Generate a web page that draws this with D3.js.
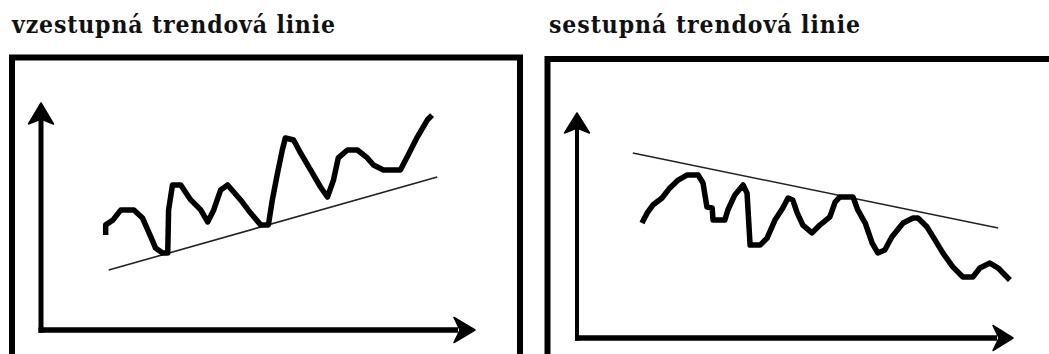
<!DOCTYPE html>
<html>
<head>
<meta charset="utf-8">
<script src="https://cdn.jsdelivr.net/npm/d3@7"></script>
<style>
  html, body { margin: 0; padding: 0; background: #fff; }
  svg { display: block; }
  .title { font-family: "DejaVu Serif Condensed", "DejaVu Serif", serif; font-stretch: condensed; font-weight: bold; font-size: 24.5px; fill: #111; }
</style>
</head>
<body>
<svg id="chart" width="1049" height="354"></svg>
<script>
// Panel titles
const titles = ["vzestupná trendová linie", "sestupná trendová linie"];

// Rising market: time (0-100) and price (0-100)
const upTime = [14.9, 14.9, 16.6, 18.4, 21.4, 23.4, 25.3, 26.4, 28.0, 29.2, 29.4, 30.3, 32.2, 34.5, 36.8, 38.4,
  39.8, 41.4, 43.0, 46.0, 48.3, 50.6, 52.4, 53.3, 54.5, 55.6, 56.3, 58.2, 59.8, 62.1, 64.4, 66.0,
  67.4, 68.5, 70.6, 72.9, 75.2, 76.6, 78.9, 82.8, 84.6, 86.7, 89.0, 90.1];
const upPrice = [41.9, 46.3, 48.5, 52.9, 52.9, 49.3, 41.0, 36.1, 33.9, 33.9, 52.9, 63.9, 63.9, 57.3, 52.9, 47.6,
  52.9, 61.7, 63.9, 57.3, 51.5, 46.3, 46.3, 57.3, 69.2, 79.3, 84.6, 83.7, 78.0, 70.5, 63.0, 58.6,
  66.1, 75.8, 79.3, 79.3, 75.8, 72.7, 70.5, 70.5, 77.1, 85.0, 92.5, 94.7];
// Support line under the rising lows
const upTrendTime = [15.6, 91.3];
const upTrendPrice = [26.4, 67.4];

// Falling market: time (0-100) and price (0-100)
const downTime = [14.9, 16.1, 17.4, 19.5, 21.3, 23.2, 25.2, 27.8, 28.9, 29.8, 31.0, 31.2, 33.9, 34.6, 36.2, 38.1,
  39.0, 39.7, 42.0, 43.6, 45.4, 47.2, 48.4, 49.5, 50.5, 51.8, 53.9, 55.7, 58.0, 59.2, 60.3, 63.3,
  64.4, 66.1, 67.7, 69.0, 70.6, 72.2, 74.8, 77.1, 78.2, 80.3, 82.1, 83.9, 86.2, 88.5, 90.8, 92.4,
  94.7, 96.6, 97.7, 99.3];
const downPrice = [51.1, 55.6, 59.1, 62.2, 66.7, 70.2, 72.4, 72.4, 68.9, 58.2, 57.8, 52.4, 52.4, 56.9, 63.6, 68.0,
  64.4, 41.3, 41.3, 44.4, 52.4, 57.8, 62.2, 61.3, 55.6, 50.2, 46.7, 50.2, 53.8, 60.4, 62.7, 62.7,
  56.9, 51.1, 42.2, 37.8, 39.1, 44.9, 51.1, 53.3, 53.3, 49.3, 43.6, 37.8, 31.6, 27.1, 27.1, 31.1,
  33.3, 31.1, 28.9, 25.8];
// Resistance line over the falling highs
const downTrendTime = [12.8, 96.6];
const downTrendPrice = [82.2, 48.9];

const zip = (a, b) => a.map((v, i) => [v, b[i]]);

const panels = [
  {
    title: titles[0], titleX: 12, titleW: 323,
    frame: { left: 12, top: 57.5, right: 520, stroke: 6 },
    origin: [41, 330], xTip: 475, yTip: 103,
    yAxisW: 5, xAxisW: 5.5, headHalf: 12.5, headLen: 21,
    series: zip(upTime, upPrice),
    trend: zip(upTrendTime, upTrendPrice)
  },
  {
    title: titles[1], titleX: 549, titleW: 311,
    frame: { left: 547.5, top: 59, right: 1070, stroke: 6 },
    origin: [577, 338], xTip: 1013, yTip: 113,
    yAxisW: 4, xAxisW: 5.5, headHalf: 12.5, headLen: 20,
    series: zip(downTime, downPrice),
    trend: zip(downTrendTime, downTrendPrice)
  }
];

const svg = d3.select("#chart");
svg.append("rect").attr("width", 1049).attr("height", 354).attr("fill", "#fff");

panels.forEach(p => {
  const g = svg.append("g");
  const [ox, oy] = p.origin;

  // Title, stretched to its column width
  const t = g.append("text")
    .attr("class", "title")
    .attr("x", p.titleX).attr("y", 33)
    .text(p.title);
  const natural = t.node().getComputedTextLength();
  if (natural < p.titleW) {
    t.attr("textLength", p.titleW).attr("lengthAdjust", "spacing");
  } else {
    t.style("font-size", (24.5 * p.titleW / natural).toFixed(2) + "px");
  }

  // Frame (open at the bottom, running past the page edge)
  const f = p.frame;
  g.append("path")
    .attr("d", `M${f.left},400 V${f.top} H${f.right} V400`)
    .attr("fill", "none")
    .attr("stroke", "#000")
    .attr("stroke-width", f.stroke)
    .attr("stroke-linejoin", "miter");

  // Scales
  const x = d3.scaleLinear().domain([0, 100]).range([ox, p.xTip]);
  const y = d3.scaleLinear().domain([0, 100]).range([oy, p.yTip]);

  // Axes with filled arrowheads
  const h = p.headLen, w = p.headHalf;
  g.append("line")
    .attr("x1", x(0)).attr("y1", oy + p.xAxisW / 2)
    .attr("x2", x(0)).attr("y2", y(100) + h - 4)
    .attr("stroke", "#000").attr("stroke-width", p.yAxisW);
  g.append("line")
    .attr("x1", x(0) - p.yAxisW / 2).attr("y1", oy)
    .attr("x2", x(100) - h + 4).attr("y2", oy)
    .attr("stroke", "#000").attr("stroke-width", p.xAxisW);

  const tx = x(0), ty = y(100);
  g.append("path")
    .attr("d", `M${tx},${ty} L${tx + w},${ty + h} L${tx},${ty + h - 5} L${tx - w},${ty + h} Z`)
    .attr("fill", "#000").attr("stroke", "#000").attr("stroke-width", 1.5).attr("stroke-linejoin", "round");
  const rx = x(100), ry = oy;
  g.append("path")
    .attr("d", `M${rx},${ry} L${rx - h},${ry - w} L${rx - h + 6},${ry} L${rx - h},${ry + w} Z`)
    .attr("fill", "#000").attr("stroke", "#000").attr("stroke-width", 1.5).attr("stroke-linejoin", "round");

  const line = d3.line().x(d => x(d[0])).y(d => y(d[1]));

  // Trend line
  g.append("path")
    .attr("d", line(p.trend))
    .attr("fill", "none")
    .attr("stroke", "#222")
    .attr("stroke-width", 1.6);

  // Price path
  g.append("path")
    .attr("d", line(p.series))
    .attr("fill", "none")
    .attr("stroke", "#000")
    .attr("stroke-width", 5.5)
    .attr("stroke-linejoin", "round")
    .attr("stroke-linecap", "butt");
});
</script>
</body>
</html>
